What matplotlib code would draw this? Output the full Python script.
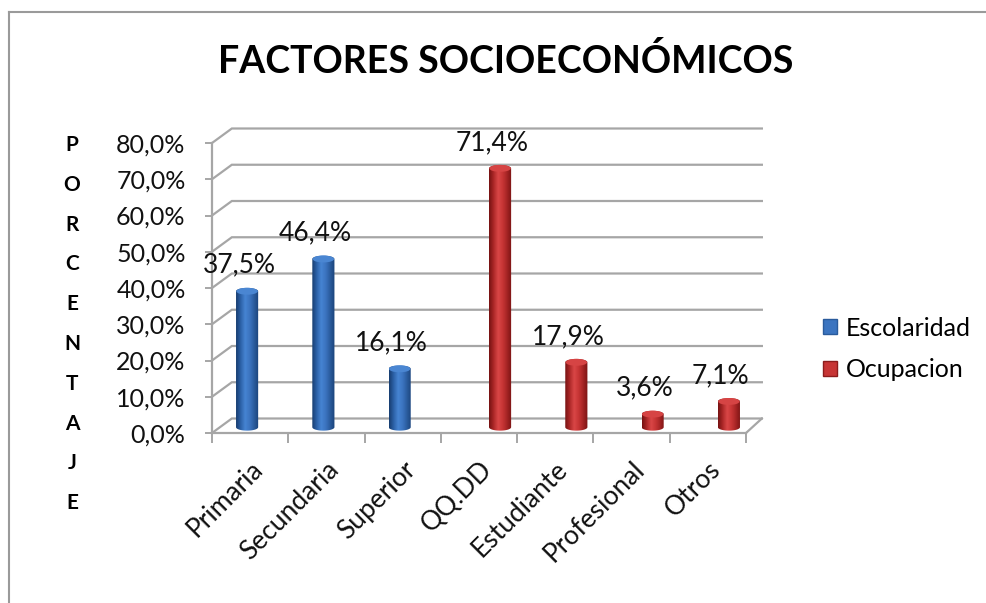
import numpy as np
import matplotlib
matplotlib.use('Agg')
import matplotlib.pyplot as plt
from matplotlib.patches import Ellipse, PathPatch, Patch
from matplotlib.path import Path
from matplotlib.lines import Line2D
from matplotlib.colors import LinearSegmentedColormap

plt.rcParams['font.family'] = ['Lato', 'DejaVu Sans']

# data
categories = ['Primaria', 'Secundaria', 'Superior', 'QQ.DD', 'Estudiante', 'Profesional', 'Otros']
escolaridad = [0.375, 0.464, 0.161, None, None, None, None]
ocupacion = [None, None, None, 0.714, 0.179, 0.036, 0.071]
series_names = ['Escolaridad', 'Ocupacion']
y_ticks = [0.0, 0.1, 0.2, 0.3, 0.4, 0.5, 0.6, 0.7, 0.8]
y_label = 'PORCENTAJE'
title = 'FACTORES SOCIOECONÓMICOS'

blue_cmap = LinearSegmentedColormap.from_list(
    'blue_cyl', ['#173d70', '#2c62a8', '#4684d2', '#3b74c0', '#2a5b9c', '#1a4279'])
red_cmap = LinearSegmentedColormap.from_list(
    'red_cyl', ['#761212', '#ad2828', '#d94646', '#c73535', '#a32323', '#7a1414'])

# fake 3d depth of the back wall (in data units)
DX = 0.26
DY = 0.04
BAR_DEPTH = 0.4
BAR_W = 0.29
CAP_H = 0.019


def fmt_pct(v):
    return f'{v * 100:.1f}%'.replace('.', ',')


def draw_cylinder(ax, xc, v, cmap, cap_color):
    base = BAR_DEPTH * DY
    x0, x1 = xc - BAR_W / 2, xc + BAR_W / 2
    top = base + v
    t = np.linspace(np.pi, 2 * np.pi, 30)
    bottom_arc = np.column_stack([xc + BAR_W / 2 * np.cos(t), base + CAP_H / 2 * np.sin(t)])
    t2 = np.linspace(0, np.pi, 30)
    top_arc = np.column_stack([xc + BAR_W / 2 * np.cos(t2), top + CAP_H / 2 * np.sin(t2)])
    verts = np.vstack([bottom_arc, top_arc, bottom_arc[:1]])
    clip = PathPatch(Path(verts), transform=ax.transData, facecolor='none', edgecolor='none')
    ax.add_patch(clip)
    grad = np.linspace(0, 1, 64).reshape(1, -1)
    im = ax.imshow(grad, extent=[x0, x1, base - CAP_H, top + CAP_H], aspect='auto',
                   cmap=cmap, zorder=3, interpolation='bilinear')
    im.set_clip_path(clip)
    cap = Ellipse((xc, top), BAR_W * 0.97, CAP_H, facecolor=cap_color,
                  edgecolor='none', zorder=4)
    ax.add_patch(cap)
    return top


fig = plt.figure(figsize=(9.87, 6.03), dpi=100)
ax = fig.add_axes([212 / 987, 1 - 433 / 603, 534 / 987, 290 / 603])
n = len(categories)
grid_col = '#a6a6a6'

# back wall grid lines with the little diagonal step
for v in y_ticks:
    ax.plot([0, DX, n + DX * 0.8], [v, v + DY, v + DY], color=grid_col, lw=1.6,
            zorder=1, clip_on=False, solid_joinstyle='miter')
# floor right side
ax.plot([n, n + DX * 0.8], [0, DY], color=grid_col, lw=1.6, zorder=1, clip_on=False)

# cylinders
for i, v in enumerate(escolaridad):
    if v is None:
        continue
    xc = i + 0.5 - 0.144 + BAR_DEPTH * DX
    top = draw_cylinder(ax, xc, v, blue_cmap, '#4a86d2')
    ax.annotate(fmt_pct(v), (xc, top), xytext=(-8, 26), textcoords='offset pixels',
                ha='center', va='center', fontsize=19, color='#111111', zorder=5)
for i, v in enumerate(ocupacion):
    if v is None:
        continue
    xc = i + 0.5 + 0.172 + BAR_DEPTH * DX
    top = draw_cylinder(ax, xc, v, red_cmap, '#d64444')
    ax.annotate(fmt_pct(v), (xc, top), xytext=(-8, 26), textcoords='offset pixels',
                ha='center', va='center', fontsize=19, color='#111111', zorder=5)

ax.set_xlim(0, n)
ax.set_ylim(0, 0.8)
ax.set_facecolor('none')
for s in ['top', 'right']:
    ax.spines[s].set_visible(False)
for s in ['left', 'bottom']:
    ax.spines[s].set_color(grid_col)
    ax.spines[s].set_linewidth(1.6)

ax.set_yticks(y_ticks)
ax.set_yticklabels([fmt_pct(v) for v in y_ticks], fontsize=18, color='#111111')
ax.tick_params(axis='y', length=5, width=1.4, color=grid_col, pad=14)

ax.set_xticks(np.arange(n) + 0.5)
ax.set_xticks(np.arange(n + 1), minor=True)
ax.set_xticklabels(categories, fontsize=19, rotation=45, ha='right', va='top',
                   rotation_mode='anchor', color='#111111')
ax.tick_params(axis='x', which='major', length=0, pad=17)
ax.tick_params(axis='x', which='minor', length=7, width=1.4, color=grid_col)

# title and stacked y label
fig.text(506 / 987, 1 - 61 / 603, title, ha='center', va='center',
         fontsize=27, fontweight='bold')
for k, ch in enumerate(y_label):
    fig.text(72 / 987, 1 - (145 + k * 39.8) / 603, ch, ha='center', va='center',
             fontsize=15, fontweight='bold')

handles = [Patch(facecolor='#3b74c0', edgecolor='#2a5b9c'),
           Patch(facecolor='#c73535', edgecolor='#8c1c1c')]
fig.legend(handles, series_names, loc='center left',
           bbox_to_anchor=(801 / 987, 1 - 349 / 603), frameon=False, fontsize=18,
           handlelength=0.55, handleheight=0.55, handletextpad=0.35, labelspacing=0.75)

# chart border (left and top)
fig.add_artist(Line2D([9 / 987, 9 / 987], [0, 1 - 12 / 603], transform=fig.transFigure,
                      color='#9a9a9a', lw=1.5))
fig.add_artist(Line2D([9 / 987, 1], [1 - 12 / 603, 1 - 12 / 603], transform=fig.transFigure,
                      color='#9a9a9a', lw=1.5))

fig.savefig('out.png', dpi=100)
